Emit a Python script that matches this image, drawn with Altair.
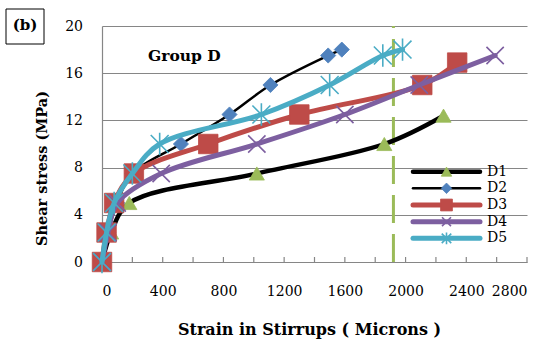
import altair as alt
import pandas as pd

series = ["D1", "D2", "D3", "D4", "D5"]
d1_x = [0, 60, 180, 1020, 1860, 2250]
d1_y = [0, 2.5, 5, 7.5, 10, 12.4]
d2_x = [0, 40, 100, 200, 520, 840, 1110, 1490, 1580]
d2_y = [0, 2.5, 5, 7.5, 10, 12.5, 15, 17.5, 18]
d3_x = [0, 30, 80, 210, 700, 1300, 2110, 2340]
d3_y = [0, 2.5, 5, 7.5, 10, 12.5, 15, 16.9]
d4_x = [0, 40, 100, 390, 1020, 1600, 2090, 2590]
d4_y = [0, 2.5, 5, 7.5, 10, 12.5, 15, 17.5]
d5_x = [0, 30, 80, 200, 380, 1050, 1500, 1850, 1980]
d5_y = [0, 2.5, 5, 7.5, 10, 12.5, 15, 17.5, 18]
x_ticks = list(range(0, 2801, 200))
x_labels = list(range(0, 2801, 400))
y_ticks = [0, 4, 8, 12, 16, 20]
limit_x = 1920
group_label = "Group D"
group_pos = (543, 17.5)

xs = [d1_x, d2_x, d3_x, d4_x, d5_x]
ys = [d1_y, d2_y, d3_y, d4_y, d5_y]
rows = []
for s, xv, yv in zip(series, xs, ys):
    for a, b in zip(xv, yv):
        rows.append({"series": s, "x": a, "y": b})
df = pd.DataFrame(rows)

W, H = 425, 236
X_PATH = "M-1,-1L1,1M-1,1L1,-1"
AST_PATH = "M-1,-1L1,1M-1,1L1,-1M0,-1.25L0,1.25"

style = {
    "D1": dict(line="#000000", lw=4.5, shape="triangle-up", mcol="#9BBB59", filled=True, size=230, lsize=110),
    "D2": dict(line="#000000", lw=2.5, shape="diamond", mcol="#4F81BD", filled=True, size=230, lsize=110),
    "D3": dict(line="#BE4B48", lw=5, shape="square", mcol="#BE4B48", filled=True, size=380, lsize=140),
    "D4": dict(line="#7D5FA0", lw=5, shape=X_PATH, mcol="#7D5FA0", filled=False, size=300, lsize=80),
    "D5": dict(line="#4AACC5", lw=5, shape=AST_PATH, mcol="#4AACC5", filled=False, size=320, lsize=90),
}

xscale = alt.Scale(domain=[0, 2800], nice=False, zero=False)
yscale = alt.Scale(domain=[0, 20], nice=False)
serif = "DejaVu Serif"

xaxis = alt.Axis(
    values=x_labels, format="d", grid=False, ticks=False, labelPadding=22,
    labelFont=serif, labelFontSize=14, labelColor="#000000", labelOverlap=False,
    domainColor="#868686", domainWidth=1.2,
    title="Strain in Stirrups ( Microns )", titleFont=serif, titleFontSize=16,
    titleFontWeight="bold", titleColor="#000000", titleBaseline="middle",
    titleX=207, titleY=67, titleAnchor="middle")
yaxis = alt.Axis(
    values=y_ticks, format="d", grid=True, gridColor="#868686", gridWidth=1.2,
    ticks=False, labelPadding=19.5,
    labelFont=serif, labelFontSize=14, labelColor="#000000",
    domainColor="#868686", domainWidth=1.2,
    title="Shear stress (MPa)", titleFont=serif, titleFontSize=14.5,
    titleFontWeight="bold", titleColor="#000000", titleBaseline="middle",
    titleX=-60, titleY=142, titleAnchor="middle")
xenc = alt.X("x:Q", scale=xscale, axis=xaxis)
yenc = alt.Y("y:Q", scale=yscale, axis=yaxis)

base = alt.Chart(df)
layers = []

for s in series:
    st = style[s]
    sub = base.transform_filter(alt.datum.series == s)
    layers.append(sub.mark_line(color=st["line"], strokeWidth=st["lw"], interpolate="catmull-rom",
                                strokeCap="round", strokeJoin="round").encode(x=xenc, y=yenc))
    if st["filled"]:
        pm = sub.mark_point(shape=st["shape"], filled=True, fill=st["mcol"], stroke=st["mcol"],
                            strokeWidth=0.8, size=st["size"], opacity=1)
    else:
        pm = sub.mark_point(shape=st["shape"], filled=False, stroke=st["mcol"], strokeWidth=1.6,
                            size=st["size"], opacity=1)
    layers.append(pm.encode(x=xenc, y=yenc))

# inward x ticks
tick_df = pd.DataFrame({"x": x_ticks})
tick_layer = alt.Chart(tick_df).mark_rule(color="#868686", strokeWidth=1.2).encode(
    x=xenc, y=alt.value(H), y2=alt.value(H - 5))

# vertical dashed limit line
limit_layer = alt.Chart(pd.DataFrame({"x": [limit_x], "y": [0], "y2": [20]})).mark_rule(
    color="#9BBB59", strokeWidth=3, strokeDash=[28, 11]).encode(
    x=xenc, y=yenc, y2="y2:Q")

# Group label
group_layer = alt.Chart(pd.DataFrame({"x": [group_pos[0]], "y": [group_pos[1]], "t": [group_label]})).mark_text(
    font=serif, fontSize=15.5, fontWeight="bold", color="#000000", baseline="middle", align="center").encode(
    x=xenc, y=yenc, text="t:N")

# (b) box
box_layer = alt.Chart(pd.DataFrame({"t": ["(b)"]})).mark_rect(
    fill="white", stroke="#000000", strokeWidth=1).encode(
    x=alt.value(-96), x2=alt.value(-58), y=alt.value(-17), y2=alt.value(18))
box_text = alt.Chart(pd.DataFrame({"t": ["(b)"]})).mark_text(
    font=serif, fontSize=15, fontWeight="bold", color="#000000", baseline="middle", align="center").encode(
    x=alt.value(-77), y=alt.value(-1), text="t:N")

main = alt.layer(tick_layer, limit_layer, *layers, group_layer, box_layer, box_text)

# custom legend
leg_df = pd.DataFrame({"series": series})
leg_y = alt.Y("series:N", scale=alt.Scale(domain=series, range=[137.3, 220.7]), axis=None)
leg_layers = []
for s in series:
    st = style[s]
    sub = alt.Chart(leg_df).transform_filter(alt.datum.series == s)
    leg_layers.append(sub.mark_rule(color=st["line"], strokeWidth=st["lw"], strokeCap="round").encode(
        x=alt.value(311), x2=alt.value(378), y=leg_y))
    if st["filled"]:
        pm = sub.mark_point(shape=st["shape"], filled=True, fill=st["mcol"], stroke=st["mcol"],
                            strokeWidth=0.8, size=st["lsize"], opacity=1)
    else:
        pm = sub.mark_point(shape=st["shape"], filled=False, stroke=st["mcol"], strokeWidth=1.6,
                            size=st["lsize"], opacity=1)
    leg_layers.append(pm.encode(x=alt.value(344.5), y=leg_y))
leg_layers.append(alt.Chart(leg_df).mark_text(font=serif, fontSize=14, color="#000000",
                                             align="left", baseline="middle").encode(
    x=alt.value(385), y=leg_y, text="series:N"))
legend = alt.layer(*leg_layers)

chart = alt.layer(main, legend).resolve_scale(y="independent").properties(
    width=W, height=H,
    autosize=alt.AutoSizeParams(type="none"),
    padding={"left": 102, "top": 26, "right": 23, "bottom": 80},
    background="white",
).configure_view(stroke=None)

chart.save("out.html", embed_options={"renderer": "svg", "actions": False})
